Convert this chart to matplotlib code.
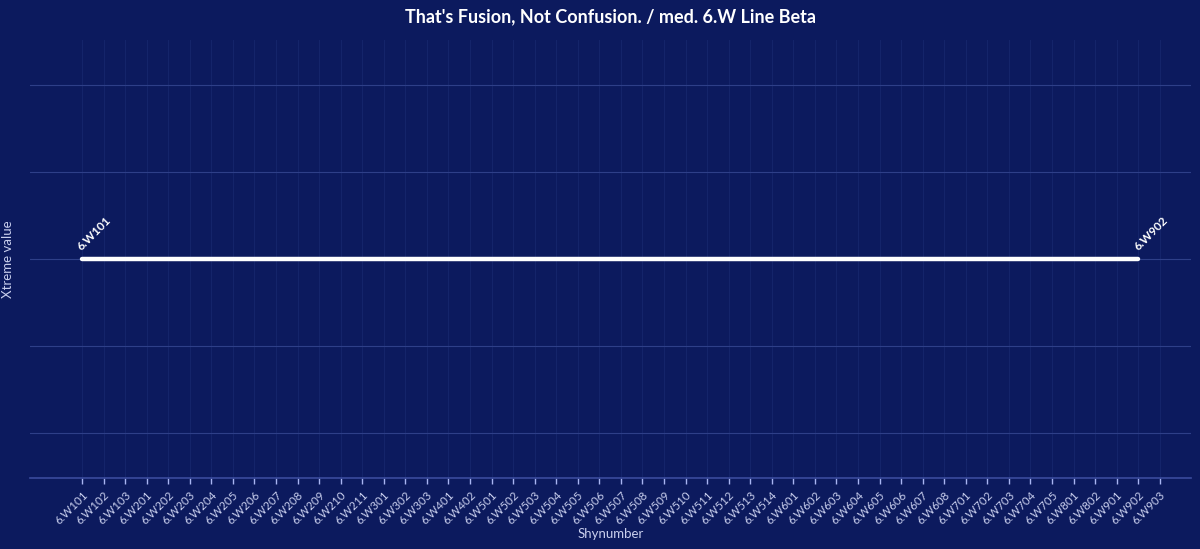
import matplotlib
matplotlib.use("Agg")
import matplotlib.pyplot as plt
import numpy as np

categories = ["6.W101", "6.W102", "6.W103", "6.W201", "6.W202", "6.W203", "6.W204",
              "6.W205", "6.W206", "6.W207", "6.W208", "6.W209", "6.W210", "6.W211",
              "6.W301", "6.W302", "6.W303", "6.W401", "6.W402", "6.W501", "6.W502",
              "6.W503", "6.W504", "6.W505", "6.W506", "6.W507", "6.W508", "6.W509",
              "6.W510", "6.W511", "6.W512", "6.W513", "6.W514", "6.W601", "6.W602",
              "6.W603", "6.W604", "6.W605", "6.W606", "6.W607", "6.W608", "6.W701",
              "6.W702", "6.W703", "6.W704", "6.W705", "6.W801", "6.W802", "6.W901",
              "6.W902", "6.W903"]
line_start = "6.W101"
line_end = "6.W902"
line_value = 0.0

plt.rcParams['font.family'] = ['Lato', 'DejaVu Sans']

bg = "#0c1a5e"
fig = plt.figure(figsize=(12, 5.49), dpi=100, facecolor=bg)
ax = fig.add_axes([0.025, 0.1293, 0.9675, 0.7977])
ax.set_facecolor(bg)

x = np.arange(len(categories))
i0 = categories.index(line_start)
i1 = categories.index(line_end)
xs = x[i0:i1 + 1]
ys = np.full(len(xs), line_value)
ax.plot(xs, ys, color="white", lw=3.2, solid_capstyle="round", zorder=5)

for idx in (i0, i1):
    ax.annotate(categories[idx], (x[idx], line_value), xytext=(1, 5),
                textcoords="offset points", rotation=45, color="white",
                fontsize=8.5, fontweight="bold", ha="left", va="bottom",
                rotation_mode="anchor", zorder=6)

ax.set_xlim(-2.41, 51.45)
ax.set_ylim(-2.517, 2.517)
ax.set_xticks(x)
ax.set_xticklabels(categories, rotation=45, ha="right", va="top",
                   rotation_mode="anchor", fontsize=8.3, color="#c9cfee")
ax.set_yticks([-2, -1, 0, 1, 2])
ax.set_yticklabels([])
ax.tick_params(axis="y", length=0)
ax.tick_params(axis="x", length=4, width=1, color="#a9b5f2", pad=4)

ax.grid(axis="y", color="#2e3f88", lw=0.8)
ax.grid(axis="x", color="#14246a", lw=0.8)
ax.set_axisbelow(True)

for s in ("top", "right", "left"):
    ax.spines[s].set_visible(False)
ax.spines["bottom"].set_color("#3a4b9d")
ax.spines["bottom"].set_linewidth(1.2)

ax.set_xlabel("Shynumber", color="#c9cfee", fontsize=9.5, labelpad=1)
ax.set_ylabel("Xtreme value", color="#c9cfee", fontsize=9.5, labelpad=8)
ax.set_title("That's Fusion, Not Confusion. / med. 6.W Line Beta", color="white",
             fontsize=13, fontweight="bold", pad=13)

fig.savefig("out.png", dpi=100, facecolor=bg)
